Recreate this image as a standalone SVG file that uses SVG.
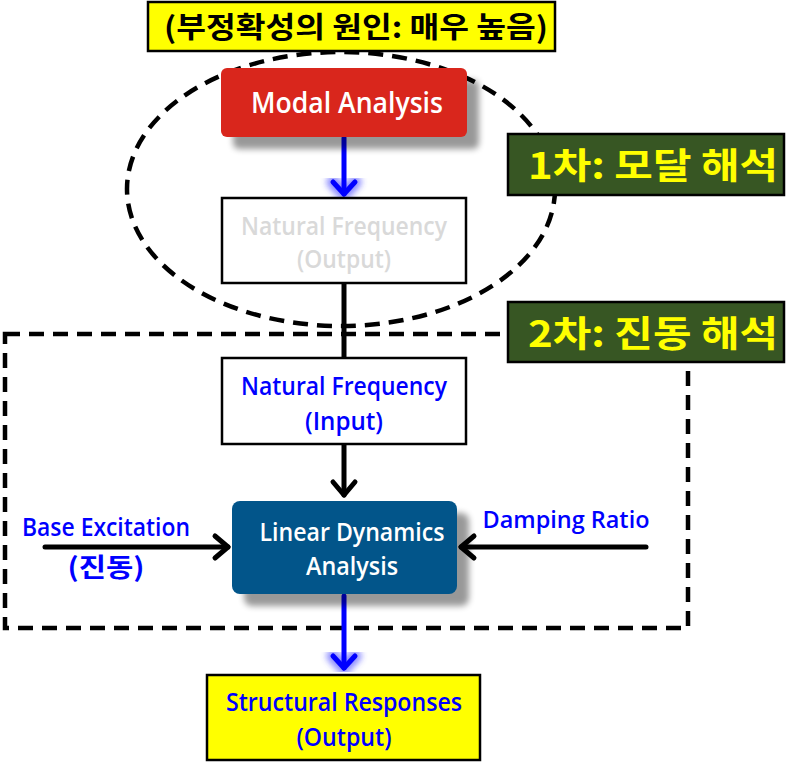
<svg xmlns="http://www.w3.org/2000/svg" width="804" height="770" viewBox="0 0 804 770">
<style>
.lat{font-family:"Open Sans","Noto Sans",sans-serif;font-weight:600;text-anchor:middle}
.kr{font-family:"Noto Sans CJK KR","Noto Sans",sans-serif;font-weight:bold;text-anchor:middle}
.blk{stroke:#000;stroke-width:5;fill:none;stroke-linecap:round;stroke-linejoin:round}
.blu{stroke:#0000FF;stroke-width:5;fill:none;stroke-linecap:round;stroke-linejoin:round}
.glow{stroke:#3C3CFF;stroke-width:13;fill:none;stroke-linecap:round;stroke-linejoin:round;opacity:0.6;filter:url(#blur)}
.box{fill:#fff;stroke:#000;stroke-width:2.5}
.lab{fill:#375623;stroke:#000;stroke-width:2.5}
</style>
<defs>
<filter id="shadow" x="-20%" y="-20%" width="150%" height="160%"><feGaussianBlur stdDeviation="3"/></filter>
<filter id="blur" x="-100%" y="-30%" width="300%" height="160%"><feGaussianBlur stdDeviation="3"/></filter>
</defs>
<rect width="804" height="770" fill="#fff"/>
<g id="regions">
<ellipse cx="341" cy="189" rx="214" ry="137" fill="none" stroke="#000" stroke-width="4.5" stroke-dasharray="15,9"/>
<rect x="5" y="334" width="683" height="294" fill="none" stroke="#000" stroke-width="4.5" stroke-dasharray="15,9"/>
</g>
<g id="connectors">
<line class="glow" x1="344" y1="140" x2="344" y2="194"/>
<path class="glow" d="M333 182 L344 194 L355 182"/>
<line class="blu" x1="344" y1="138" x2="344" y2="194"/>
<path class="blu" d="M333 182 L344 194 L355 182"/>
<line x1="344" y1="283" x2="344" y2="358" stroke="#000" stroke-width="5"/>
<line class="blk" x1="344" y1="445" x2="344" y2="495"/>
<path class="blk" d="M333 482 L344 495 L355 482"/>
<line class="blk" x1="45" y1="547" x2="228" y2="547"/>
<path class="blk" d="M215 536 L228 547 L215 558"/>
<line class="blk" x1="646" y1="547" x2="461" y2="547"/>
<path class="blk" d="M474 536 L461 547 L474 558"/>
<line class="glow" x1="344" y1="597" x2="344" y2="668"/>
<path class="glow" d="M333 656 L344 668 L355 656"/>
<line class="blu" x1="344" y1="596" x2="344" y2="668"/>
<path class="blu" d="M333 656 L344 668 L355 656"/>
</g>
<g id="cause">
<rect x="148" y="2" width="407" height="49" fill="#FFFF00" stroke="#000" stroke-width="2.5"/>
<text class="kr" x="356" y="38" font-size="29" fill="#000" textLength="384" lengthAdjust="spacingAndGlyphs">(부정확성의 원인: 매우 높음)</text>
</g>
<g id="modal">
<rect x="233" y="80" width="246" height="69" rx="6" fill="#000" opacity="0.4" filter="url(#shadow)"/>
<rect x="221" y="68" width="246" height="69" rx="6" fill="#D9261C"/>
<text class="lat" x="347" y="113" font-size="28" fill="#fff" textLength="192" lengthAdjust="spacingAndGlyphs">Modal Analysis</text>
</g>
<g id="nf-out">
<rect class="box" x="222" y="198" width="244" height="85"/>
<text class="lat" x="344" y="235" font-size="26" fill="#D9D9D9" textLength="206" lengthAdjust="spacingAndGlyphs">Natural Frequency</text>
<text class="lat" x="344" y="268" font-size="26" fill="#D9D9D9" textLength="94" lengthAdjust="spacingAndGlyphs">(Output)</text>
</g>
<g id="step1">
<rect class="lab" x="508" y="134" width="276" height="61"/>
<text class="kr" x="653" y="179" font-size="36" fill="#FFFF00" textLength="250" lengthAdjust="spacingAndGlyphs">1차: 모달 해석</text>
</g>
<g id="step2">
<rect class="lab" x="508" y="302" width="276" height="60"/>
<text class="kr" x="653" y="347" font-size="36" fill="#FFFF00" textLength="250" lengthAdjust="spacingAndGlyphs">2차: 진동 해석</text>
</g>
<g id="nf-in">
<rect class="box" x="222" y="358" width="244" height="86"/>
<text class="lat" x="344" y="395" font-size="25" fill="#0000FF" textLength="206" lengthAdjust="spacingAndGlyphs">Natural Frequency</text>
<text class="lat" x="344" y="430" font-size="25" fill="#0000FF" textLength="78" lengthAdjust="spacingAndGlyphs">(Input)</text>
</g>
<g id="lda">
<rect x="244" y="513" width="225" height="93" rx="8" fill="#000" opacity="0.4" filter="url(#shadow)"/>
<rect x="232" y="501" width="225" height="93" rx="8" fill="#02558A"/>
<text class="lat" x="352" y="541" font-size="25" fill="#fff" textLength="185" lengthAdjust="spacingAndGlyphs">Linear Dynamics</text>
<text class="lat" x="352" y="575" font-size="25" fill="#fff" textLength="92" lengthAdjust="spacingAndGlyphs">Analysis</text>
</g>
<g id="base">
<text class="lat" x="106" y="536" font-size="25" fill="#0000FF" textLength="168" lengthAdjust="spacingAndGlyphs">Base Excitation</text>
<text class="kr" x="106" y="577" font-size="26" fill="#0000FF" textLength="77" lengthAdjust="spacingAndGlyphs">(진동)</text>
</g>
<g id="damping">
<text class="lat" x="566" y="528" font-size="24" fill="#0000FF" textLength="167" lengthAdjust="spacingAndGlyphs">Damping Ratio</text>
</g>
<g id="responses">
<rect x="207" y="675" width="273" height="85" fill="#FFFF00" stroke="#000" stroke-width="2.5"/>
<text class="lat" x="344" y="711" font-size="25" fill="#0000FF" textLength="236" lengthAdjust="spacingAndGlyphs">Structural Responses</text>
<text class="lat" x="344" y="746" font-size="25" fill="#0000FF" textLength="95" lengthAdjust="spacingAndGlyphs">(Output)</text>
</g>
</svg>
